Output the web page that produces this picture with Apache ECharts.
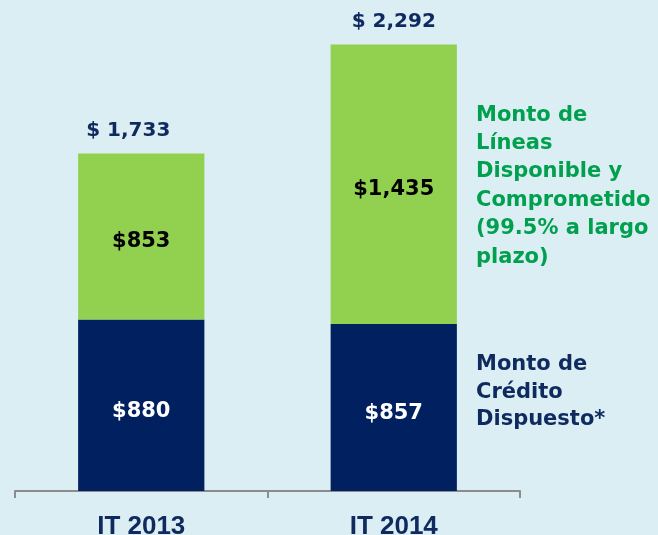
<!DOCTYPE html>
<html>
<head>
<meta charset="utf-8">
<script src="https://cdn.jsdelivr.net/npm/echarts@6/dist/echarts.min.js"></script>
<style>
  html, body { margin: 0; padding: 0; background: #dbeef4; }
  #chart { width: 658px; height: 535px; }
</style>
</head>
<body>
<div id="chart"></div>
<script>
const categories = ['IT 2013', 'IT 2014'];
const dispuesto = [880, 857];
const disponible = [853, 1435];
const totals = [1733, 2292];
const greenNote = ['Monto de', 'Líneas', 'Disponible y', 'Comprometido', '(99.5% a largo', 'plazo)'];
const navyNote = ['Monto de', 'Crédito', 'Dispuesto*'];

const fmt = (v) => v.toLocaleString('en-US');
const NAVY = '#002060';
const GREEN = '#92d050';
const labelFont = 'DejaVu Sans';

const chart = echarts.init(document.getElementById('chart'));
chart.setOption({
  backgroundColor: '#dbeef4',
  animation: false,
  grid: { left: 15, right: 138, top: 4, bottom: 44, outerBoundsMode: 'none', containLabel: false },
  xAxis: {
    type: 'category',
    data: categories,
    axisLine: { lineStyle: { color: '#8c8c8c', width: 2 } },
    axisTick: { show: true, length: 7, lineStyle: { color: '#8c8c8c', width: 2 } },
    axisLabel: {
      margin: 23,
      color: '#0f2a5e',
      fontFamily: 'Liberation Sans',
      fontWeight: 'bold',
      fontSize: 26
    }
  },
  yAxis: { type: 'value', min: 0, max: 2500, show: false },
  series: [
    {
      name: 'Crédito Dispuesto',
      type: 'bar',
      stack: 'total',
      barWidth: '50%',
      data: dispuesto,
      itemStyle: { color: NAVY },
      label: {
        show: true,
        position: 'inside',
        offset: [0, 6],
        color: '#ffffff',
        fontFamily: labelFont,
        fontWeight: 'bold',
        fontSize: 21,
        formatter: (p) => '$' + fmt(p.value)
      }
    },
    {
      name: 'Líneas Disponible',
      type: 'bar',
      stack: 'total',
      data: disponible,
      itemStyle: { color: GREEN },
      label: {
        show: true,
        position: 'inside',
        offset: [0, 5],
        color: '#000000',
        fontFamily: labelFont,
        fontWeight: 'bold',
        fontSize: 21,
        formatter: (p) => '$' + fmt(p.value)
      }
    },
    {
      name: 'Total',
      type: 'bar',
      stack: 'total',
      data: totals.map((t, i) => ({ value: 0, label: { offset: [i === 0 ? -13 : 0, 0] } })),
      itemStyle: { color: 'transparent' },
      label: {
        show: true,
        position: 'top',
        distance: 13,
        color: '#0f2a5e',
        fontFamily: labelFont,
        fontWeight: 'bold',
        fontSize: 20,
        formatter: (p) => '$ ' + fmt(totals[p.dataIndex])
      }
    }
  ],
  graphic: [
    {
      type: 'text',
      left: 476,
      top: 101,
      style: {
        text: greenNote.join('\n'),
        fill: '#00a04e',
        font: 'bold 21px "DejaVu Sans"',
        lineHeight: 28.4
      }
    },
    {
      type: 'text',
      left: 476,
      top: 351,
      style: {
        text: navyNote.join('\n'),
        fill: '#0f2a5e',
        font: 'bold 21px "DejaVu Sans"',
        lineHeight: 27.5
      }
    }
  ]
});
</script>
</body>
</html>
